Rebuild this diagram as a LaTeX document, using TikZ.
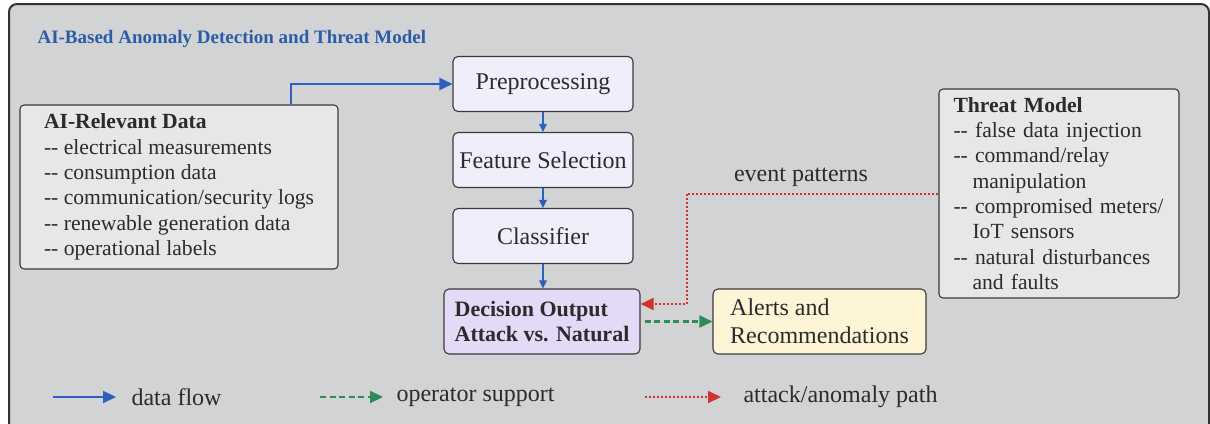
\documentclass[tikz,border=0pt]{standalone}
\usepackage{fontspec}
\setmainfont{Liberation Serif}
\usetikzlibrary{arrows.meta,calc}

\definecolor{framefill}{HTML}{D2D3D5}
\definecolor{frameline}{HTML}{333333}
\definecolor{boxline}{HTML}{3A3A3A}
\definecolor{listfill}{HTML}{E6E7E9}
\definecolor{stagefill}{HTML}{F1EEFB}
\definecolor{decisionfill}{HTML}{E4DAF7}
\definecolor{alertfill}{HTML}{FDF5D5}
\definecolor{inkgray}{HTML}{2B2B2B}
\definecolor{titleblue}{HTML}{2A5DA8}
\definecolor{flowblue}{HTML}{2C5FBF}
\definecolor{supportgreen}{HTML}{2E8B57}
\definecolor{attackred}{HTML}{D03232}

\newcommand\twodash{-{}-}
\newcommand\hangline{\hspace*{19pt}}
\newcommand\normaltext{\fontsize{24}{28}\selectfont}
\newcommand\listtext{\fontsize{21.6}{25.3}\selectfont\hyphenpenalty=10000}

\begin{document}
\begin{tikzpicture}[x=1pt,y=-1pt,
  every node/.style={text=inkgray},
  listbox/.style={draw=boxline, fill=listfill, line width=1.1pt,
    rounded corners=4pt, align=left, font=\listtext},
  stagebox/.style={draw=boxline, fill=stagefill, line width=1.1pt,
    rounded corners=5pt, minimum width=180, minimum height=55, font=\normaltext},
  flow/.style={draw=flowblue, line width=1.4pt, -{Triangle[length=8pt,width=7.5pt]}},
  mainflow/.style={draw=flowblue, line width=2pt, -{Triangle[length=13pt,width=12pt]}},
  support/.style={draw=supportgreen, line width=2.2pt, dash pattern=on 6pt off 3.5pt,
    -{Triangle[length=13pt,width=12pt]}},
  attack/.style={draw=attackred, line width=2pt, dash pattern=on 2pt off 2pt,
    -{Triangle[length=13pt,width=12pt]}},
  legendtext/.style={anchor=west, font=\normaltext}]

\useasboundingbox (0,0) rectangle (1210,423);

% outer panel, running off the lower edge
\begin{scope}
  \clip (0,0) rectangle (1210,423);
  \draw[frameline, fill=framefill, line width=2pt, rounded corners=8pt]
    (9,4) rectangle (1209,450);
\end{scope}

\node[anchor=base west, text=titleblue, font=\fontsize{19}{22}\selectfont\bfseries]
  (title) at (34,43) {AI-Based Anomaly Detection and Threat Model};

% input data
\node[listbox, minimum width=318, minimum height=164] (data) at (179,187)
  {\textbf{AI-Relevant Data}\\
   \twodash{} electrical measurements\\
   \twodash{} consumption data\\
   \twodash{} communication/security logs\\
   \twodash{} renewable generation data\\
   \twodash{} operational labels};

% detection pipeline
\node[stagebox] (pre)  at (543,84)  {Preprocessing};
\node[stagebox] (feat) at (543,160) {Feature Selection};
\node[stagebox] (cls)  at (543,236) {Classifier};
\node[draw=boxline, fill=decisionfill, line width=1.1pt, rounded corners=5pt,
      minimum width=196, minimum height=65, align=left,
      font=\fontsize{22}{25}\selectfont\bfseries] (dec) at (542,321.5)
  {Decision Output\\Attack vs. Natural};
\node[draw=boxline, fill=alertfill, line width=1.1pt, rounded corners=5pt,
      minimum width=213, minimum height=65, align=left,
      font=\fontsize{24}{28}\selectfont] (alerts) at (819.5,321.5)
  {Alerts and\\Recommendations};

% threat model
\node[listbox, minimum width=240, minimum height=209, text width=211,
      inner xsep=14.5pt] (threat) at (1059,193.5)
  {\textbf{Threat Model}\\
   \twodash{} false data injection\\
   \twodash{} command/relay\\
   \hangline manipulation\\
   \twodash{} compromised meters/\\
   \hangline IoT sensors\\
   \twodash{} natural disturbances\\
   \hangline and faults};

% connectors
\draw[mainflow] ([xshift=112pt]data.north) |- (pre.west);
\draw[flow] (pre.south) -- (feat.north);
\draw[flow] (feat.south) -- (cls.north);
\draw[flow] (cls.south) -- (cls.south |- dec.north);

\coordinate (bend) at ([xshift=46pt,yshift=17.5pt]dec.east);
\draw[attack] (threat.west) -| (bend) -- ([yshift=17.5pt]dec.east);
\node[font=\normaltext] (evt) at (801,177) {event patterns};

\draw[support] ([xshift=4pt]dec.east) -- (alerts.west);

% legend
\coordinate (l1a) at (53,397);  \coordinate (l1b) at (116,397);
\coordinate (l2a) at (320,397); \coordinate (l2b) at (383,397);
\coordinate (l3a) at (645,397); \coordinate (l3b) at (721,397);
\draw[mainflow] (l1a) -- (l1b);
\draw[support] (l2a) -- (l2b);
\draw[attack] (l3a) -- (l3b);
\node[legendtext] (lg1) at (128,397) {data flow};
\node[legendtext] (lg2) at (393,397) {operator support};
\node[legendtext] (lg3) at (740,397) {attack/anomaly path};

\end{tikzpicture}
\end{document}
